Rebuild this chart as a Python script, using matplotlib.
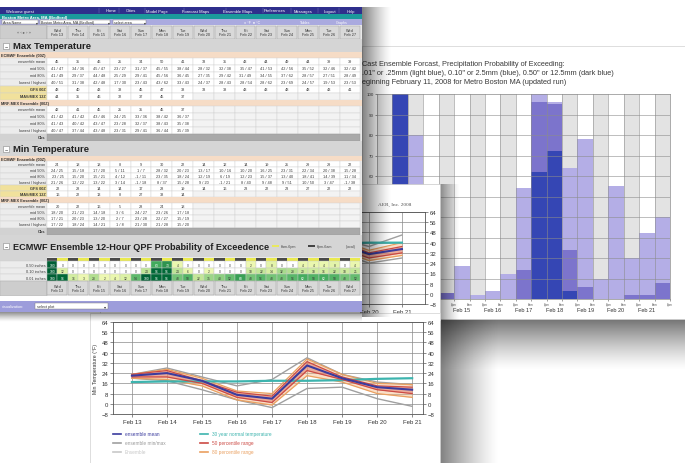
import numpy as np
import matplotlib.pyplot as plt
from matplotlib.patches import Rectangle
from matplotlib import colormaps

plt.rcParams['font.family'] = ['Liberation Sans', 'DejaVu Sans']

W, H = 685, 464

# ---------------- data ----------------
week_days = ["Wed", "Thu", "Fri", "Sat", "Sun", "Mon", "Tue", "Wed",
             "Thu", "Fri", "Sat", "Sun", "Mon", "Tue", "Wed"]
table_dates = ["Feb 13", "Feb 14", "Feb 15", "Feb 16", "Feb 17", "Feb 18", "Feb 19", "Feb 20",
               "Feb 21", "Feb 22", "Feb 23", "Feb 24", "Feb 25", "Feb 26", "Feb 27"]
nav_items = ["Home", "Cities", "Model Page", "Forecast Maps", "Ensemble Maps",
             "Preferences", "Messages", "Logout", "Help"]
row_labels = ["ensemble mean", "mid 50%", "mid 80%", "lowest / highest", "GFS 00Z", "MAV/MEX 12Z"]

max_mean = [45, 35, 46, 25, 34, 50, 41, 33, 35, 43, 44, 49, 44, 39, 39]
max_mid50 = ["41 / 47", "34 / 36", "45 / 47", "23 / 27", "31 / 37", "45 / 55", "38 / 44", "28 / 32",
             "32 / 38", "35 / 47", "41 / 53", "42 / 56", "35 / 52", "32 / 46", "32 / 42"]
max_mid80 = ["41 / 49", "29 / 37", "44 / 48", "25 / 29", "29 / 41", "45 / 56", "36 / 45", "27 / 35",
             "29 / 42", "31 / 49", "34 / 55", "37 / 62", "28 / 57", "27 / 51", "28 / 49"]
max_lohi = ["40 / 51", "31 / 38", "42 / 48", "17 / 30", "23 / 43", "43 / 62", "33 / 43", "24 / 37",
            "28 / 43", "28 / 54", "28 / 62", "23 / 69", "24 / 57", "19 / 53", "23 / 53"]
max_gfs = [48, 40, 43, 38, 45, 47, 38, 33, 38, 43, 43, 48, 48, 43, 41]
max_mav = [44, 35, 46, 32, 37, 45, 37]
max_mex_mean = [42, 41, 45, 25, 35, 45, 37]
max_mex_mid50 = ["41 / 42", "41 / 42", "43 / 46", "24 / 25", "33 / 36", "38 / 42", "36 / 37"]
max_mex_mid80 = ["41 / 43", "40 / 42", "43 / 47", "23 / 28", "32 / 37", "38 / 43", "35 / 38"]
max_mex_lohi = ["40 / 47", "37 / 44", "43 / 48", "23 / 31", "29 / 41", "36 / 44", "35 / 39"]

min_mean = [24, 18, 18, 8, 9, 30, 22, 14, 12, 14, 19, 25, 29, 29, 22]
min_mid50 = ["24 / 25", "15 / 18", "17 / 20", "5 / 11", "1 / 7", "28 / 32", "20 / 23", "13 / 17",
             "10 / 16", "10 / 20", "16 / 25", "23 / 31", "22 / 34", "20 / 38", "15 / 28"]
min_mid80 = ["23 / 25", "15 / 20", "15 / 21", "4 / 12", "-1 / 11", "23 / 35", "18 / 24", "12 / 19",
             "6 / 19", "12 / 23", "15 / 37", "13 / 40", "18 / 41", "14 / 39", "11 / 34"]
min_lohi = ["21 / 26", "12 / 22", "13 / 22", "3 / 14", "-1 / 18", "8 / 37", "15 / 28", "9 / 20",
            "-1 / 21", "8 / 40", "9 / 48", "9 / 51", "10 / 50", "3 / 47", "-1 / 38"]
min_gfs = [22, 28, 14, 14, 17, 28, 19, 14, 16, 23, 22, 23, 27, 22, 22]
min_mav = [16, 22, 13, 8, 27, 38, 14]
min_mex_mean = [20, 22, 16, 5, 28, 24, 18]
min_mex_mid50 = ["18 / 20", "21 / 23", "14 / 18", "3 / 6", "24 / 27", "23 / 26", "17 / 18"]
min_mex_mid80 = ["17 / 21", "20 / 23", "13 / 20", "2 / 7", "23 / 28", "22 / 27", "15 / 19"]
min_mex_lohi = ["17 / 22", "18 / 24", "14 / 21", "1 / 8", "21 / 30", "21 / 28", "15 / 20"]

qpf_labels = ["0.50 inches", "0.10 inches", "0.01 inches"]
qpf_050 = [100, 0, 0, 0, 0, 0, 0, 0, 0, 0, 63, 73, 4, 0, 0, 0, 0, 0, 0, 2,
           0, 8, 0, 0, 4, 4, 4, 8, 0, 4]
qpf_010 = [100, 12, 0, 0, 0, 0, 0, 0, 0, 24, 96, 96, 24, 6, 0, 2, 0, 0, 0, 18,
           22, 14, 32, 28, 20, 18, 16, 22, 18, 21]
qpf_001 = [100, 96, 16, 3, 28, 2, 4, 12, 54, 100, 96, 96, 48, 58, 22, 35, 40, 52, 68, 48,
           56, 48, 48, 56, 62, 58, 62, 58, 48, 52]

# precipitation probability bars, 12-hour periods
bar_light = [0, 100, 80, 20, 3, 16, 2, 4, 12, 54, 100, 96, 64, 78, 10, 55, 20, 32, 40]
bar_medium = [0, 100, 0, 0, 3, 0, 0, 0, 0, 14, 96, 95, 24, 6, 0, 0, 2, 2, 8]
bar_dark = [0, 100, 0, 0, 0, 0, 0, 0, 0, 0, 62, 72, 4, 0, 0, 0, 0, 0, 0]
bar_dates = ["Feb 13", "Feb 14", "Feb 15", "Feb 16", "Feb 17", "Feb 18", "Feb 19", "Feb 20", "Feb 21"]
bar_title = ["Cast Ensemble Forcast, Precipitation Probability of Exceeding:",
             ".01\" or .25mm (light blue), 0.10\" or 2.5mm (blue), 0.50\" or 12.5mm (dark blue)",
             "eginning February 11, 2008 for Metro Boston MA (updated run)"]

# line charts (Feb 13 .. Feb 21)
chart_dates = ["Feb 13", "Feb 14", "Feb 15", "Feb 16", "Feb 17", "Feb 18", "Feb 19", "Feb 20", "Feb 21"]

min_t_mean = [22, 24, 18, 7, 4, 30, 20, 13, 11]
min_t_normal = [17, 17.5, 17.5, 17.5, 18, 18, 18.5, 19.5, 20]
min_t_max = [23, 28, 21, 14, 19, 36, 23, 17, 15]
min_t_min = [20, 18, 11, 3, -3, 12, 13, 4, -2]
min_t_p80_lo = [20, 19, 14, 3, -1, 22, 17, 8, 5]
min_t_p80_hi = [23, 27, 20, 10, 8, 35, 23, 16, 15]
min_t_p50_lo = [21, 21, 16, 5, 1, 26, 19, 11, 8]
min_t_p50_hi = [23, 26, 18, 9, 6, 33, 21, 14, 13]

max_t_mean = [45, 36, 44, 26, 33, 49, 40, 31, 35]
max_t_normal = [38, 38, 38.5, 38.5, 39, 39, 39.5, 40, 40]
max_t_max = [50, 42, 48, 31, 40, 58, 44, 37, 46]
max_t_min = [40, 30, 41, 18, 24, 43, 33, 24, 28]
max_t_p80_lo = [41, 32, 42, 22, 27, 45, 35, 26, 30]
max_t_p80_hi = [48, 38, 47, 29, 39, 55, 43, 34, 40]
max_t_p50_lo = [43, 34, 43, 24, 30, 47, 37, 28, 32]
max_t_p50_hi = [46, 37, 46, 27, 36, 52, 42, 32, 37]

legend_labels = ["ensemble mean", "ensemble min/max", "Ensemble",
                 "30 year normal temperature", "50 percentile range", "80 percentile range"]

fig = plt.figure(figsize=(6.85, 4.64), dpi=100)
fig.patch.set_facecolor('white')


def px_axes(x0, y0, x1, y1, z):
    return fig.add_axes([x0 / W, 1 - y1 / H, (x1 - x0) / W, (y1 - y0) / H], zorder=z)


def overlay(z):
    ax = fig.add_axes([0, 0, 1, 1], zorder=z)
    ax.set_xlim(0, W)
    ax.set_ylim(H, 0)
    ax.axis('off')
    return ax


def shadow(ax, x0, x1, y0, y1, along, a0, z=0):
    r = np.linspace(a0, 0, 60) ** 1.3 / a0 ** 0.3
    a = np.tile(r, (2, 1)) if along == 'x' else np.tile(r[:, None], (1, 2))
    img = np.zeros(a.shape + (4,))
    img[..., 3] = a
    ax.imshow(img, extent=(x0, x1, y1, y0), aspect='auto', interpolation='bilinear', zorder=z)
    ax.set_xlim(0, W)
    ax.set_ylim(H, 0)


# ---------------- back panel: precipitation probability ----------------
bg = overlay(1)
bg.add_patch(Rectangle((362, 47), 323, 273, fc='white', ec='#d0d0d0', lw=0.5))
shadow(bg, 440, 685, 320, 372, 'y', 0.55)
shadow(bg, 440, 500, 316, 464, 'x', 0.5)
for k, t in enumerate(bar_title):
    bg.text(362, 64 + k * 9.5, t, fontsize=5.3, color='#3a3a3a', va='center', ha='left')

ax_bar = px_axes(377, 95, 670, 300, 2)
slots = np.arange(len(bar_light))
for s in slots[::2]:
    ax_bar.axvspan(s, s + 1, color='#e3e3e3', lw=0)
ax_bar.bar(slots, bar_light, width=1, align='edge', color='#b4aee6')
ax_bar.bar(slots, bar_medium, width=1, align='edge', color='#7c74cc')
ax_bar.bar(slots, bar_dark, width=1, align='edge', color='#3546b4')
for v in range(10, 100, 10):
    ax_bar.axhline(v, color='#8c8c8c', lw=0.5, alpha=0.8)
for s in slots[1:]:
    ax_bar.axvline(s, color='#8c8c8c', lw=0.5, alpha=0.8)
ax_bar.set_xlim(0, len(bar_light))
ax_bar.set_ylim(0, 100)
ax_bar.set_yticks(range(60, 101, 10))
ax_bar.tick_params(axis='y', labelsize=3.2, length=1.5, width=0.4, pad=1, colors='#444')
ax_bar.set_xticks(range(len(bar_light) + 1))
# boundaries left of x=4 sit under the middle panel
ax_bar.set_xticklabels(["" if i < 5 else ("6am" if i % 2 == 0 else "6pm")
                        for i in range(len(bar_light) + 1)])
ax_bar.tick_params(axis='x', labelsize=2.2, length=1.5, width=0.4, pad=0.5, colors='#555')
for k, d in enumerate(bar_dates):
    if k >= 2:
        ax_bar.text(1.5 + 2 * k, -5, d, fontsize=4, color='#333', ha='center', va='center', clip_on=False)
for s in ax_bar.spines.values():
    s.set_linewidth(0.5)
    s.set_color('#888')

# ---------------- middle panel: max temperature lines ----------------
mid_frame = overlay(3)
mid_frame.add_patch(Rectangle((100, 185), 340, 136, fc='white', ec='#c8c8c8', lw=0.5))
mid_frame.text(395, 205, "AER, Inc. 2008", fontsize=3.8, color='#555', ha='center', va='center',
               family=['Liberation Serif', 'DejaVu Serif'])
shadow(mid_frame, 440, 460, 185, 321, 'x', 0.4)


def line_chart(ax, xlim, mean, normal, mx, mn, p80lo, p80hi, p50lo, p50hi):
    idx = np.arange(len(chart_dates))
    ax.set_xlim(*xlim)
    ax.set_ylim(-8, 64)
    ax.set_yticks(range(-8, 65, 8))
    ax.set_xticks(idx)
    ax.set_xticklabels(chart_dates)
    ax.tick_params(labelsize=4.3, length=2, width=0.4, colors='#333', pad=1.5,
                   right=True, labelright=True)
    ax.grid(color='#8a8a8a', lw=0.5)
    ax.set_axisbelow(True)
    for s in ax.spines.values():
        s.set_linewidth(0.6)
        s.set_color('#555')
    ax.fill_between(idx, p80lo, p80hi, color='#f4b984', alpha=0.45, lw=0)
    ax.fill_between(idx, p50lo, p50hi, color='#e0766a', alpha=0.5, lw=0)
    ax.plot(idx, mx, color='#a0a0a0', lw=1.0)
    ax.plot(idx, mn, color='#a0a0a0', lw=1.0)
    ax.plot(idx, p80lo, color='#eaa060', lw=0.9)
    ax.plot(idx, p80hi, color='#eaa060', lw=0.9)
    ax.plot(idx, normal, color='#3db4ae', lw=1.6)
    ax.plot(idx, p50lo, color='#cc4a44', lw=0.9)
    ax.plot(idx, p50hi, color='#cc4a44', lw=0.9)
    ax.plot(idx, mean, color='#3b3c9e', lw=1.5)


ax_mid = px_axes(115, 213, 425, 305, 4)
line_chart(ax_mid, (-0.7, 8.7), max_t_mean, max_t_normal, max_t_max, max_t_min,
           max_t_p80_lo, max_t_p80_hi, max_t_p50_lo, max_t_p50_hi)
# the left part of this chart is hidden under the table
ax_mid.tick_params(labelleft=False)
ax_mid.set_xticklabels([d if k >= 7 else "" for k, d in enumerate(chart_dates)])

# ---------------- front panel: min temperature lines ----------------
front = overlay(5)
front.add_patch(Rectangle((90, 314), 350, 160, fc='white', ec='#d0d0d0', lw=0.5))
leg_colors = ['#3b3c9e', '#a0a0a0', '#c8c8c8', '#3db4ae', '#cc4a44', '#eaa060']
for k, (lab, c) in enumerate(zip(legend_labels, leg_colors)):
    x = 113 if k < 3 else 200
    y = 435 + (k % 3) * 9
    front.plot([x, x + 8], [y, y], color=c, lw=1.2)
    front.text(x + 12, y, lab, fontsize=3.4, color=c if k != 1 else '#999', va='center')
front.set_xlim(0, W)
front.set_ylim(H, 0)

ax_front = px_axes(113, 323, 423, 415, 6)
line_chart(ax_front, (-0.54, 8.31), min_t_mean, min_t_normal, min_t_max, min_t_min,
           min_t_p80_lo, min_t_p80_hi, min_t_p50_lo, min_t_p50_hi)
ax_front.set_ylabel("Min Temperature (°F)", fontsize=3.8, color='#333', labelpad=2)

# ---------------- front-left: the web page table ----------------
tab = overlay(8)
LX = 47
CW = (360.5 - LX) / 15
TXT = '#3a3a3a'
tab.add_patch(Rectangle((0, 8), 362, 305, fc='#e8e8e8', lw=0))
shadow(tab, 362, 392, 8, 318, 'x', 0.5)
shadow(tab, 0, 362, 313, 323, 'y', 0.45)

y = 8
# navigation bar
tab.add_patch(Rectangle((0, y), 362, 7, fc='#2f2f8c', lw=0))
tab.text(6, y + 3.5, "Welcome guest", fontsize=3, color='white', va='center')
for name, xc in zip(nav_items, [111, 131, 157, 196, 238, 275, 303, 330, 351]):
    tab.text(xc, y + 3.5, name, fontsize=3, color='white', va='center', ha='center')
    tab.plot([xc - 12, xc - 12], [y + 1, y + 6], color='#8080c0', lw=0.3)
y += 7
tab.add_patch(Rectangle((0, y), 362, 5, fc='#1b9a9c', lw=0))
tab.text(2, y + 2.5, "Boston Metro Area, MA (Bedford)", fontsize=3, color='white',
         weight='bold', va='center')
y += 5
tab.add_patch(Rectangle((0, y), 362, 6, fc='#aaaadf', lw=0))
for (a, b, t) in [(2, 38, "Area Name"), (40, 110, "Boston Metro Area, MA (Bedford)"), (113, 146, "select area")]:
    tab.add_patch(Rectangle((a, y + 1), b - a, 4, fc='white', ec='#777', lw=0.3))
    tab.text(a + 1, y + 3, t, fontsize=2.6, color='#333', va='center')
    tab.text(b - 1.5, y + 3, "▾", fontsize=2.6, color='#333', va='center', ha='center')
tab.text(252, y + 3, "○ °F  ● °C", fontsize=2.6, color='white', va='center', ha='center')
tab.text(305, y + 3, "Tables", fontsize=2.6, color='white', va='center', ha='center')
tab.text(342, y + 3, "Graphs", fontsize=2.6, color='white', va='center', ha='center')
y += 6


def date_row(y, h):
    tab.add_patch(Rectangle((0, y), LX, h, fc='#cdcdcd', ec='#aaa', lw=0.3))
    for i in range(15):
        x = LX + i * CW
        tab.add_patch(Rectangle((x + 0.5, y + 0.5), CW - 1, h - 1, fc='#d9d9d9', ec='#999', lw=0.3))
        tab.text(x + CW / 2, y + h / 2, week_days[i] + "\n" + table_dates[i], fontsize=2.8,
                 color='#333', ha='center', va='center', linespacing=1.1)


def section(y, h, title, fs=6.8):
    tab.add_patch(Rectangle((0, y), 362, h, fc='#d5d5d5', lw=0))
    tab.add_patch(Rectangle((3, y + h / 2 - 3), 6, 6, fc='white', ec='#888', lw=0.4))
    tab.text(6, y + h / 2, "−", fontsize=4, color='#555', ha='center', va='center')
    tab.text(13, y + h / 2, title, fontsize=fs, weight='bold', color='#222', va='center')


def peach(y, h, title):
    tab.add_patch(Rectangle((0, y), 362, h, fc='#f6dcc6', lw=0))
    tab.text(1.5, y + h / 2, title, fontsize=2.8, weight='bold', color='#333', va='center')


def cell_row(y, h, label, values, yellow=False):
    tab.add_patch(Rectangle((0, y), LX, h, fc='#f1e19c' if yellow else '#ececec', ec='#cfcfcf', lw=0.3))
    tab.text(LX - 1.5, y + h / 2, label, ha='right', va='center', fontsize=2.8, color=TXT,
             weight='bold' if yellow else 'normal')
    for i in range(15):
        x = LX + i * CW
        full = i < len(values)
        tab.add_patch(Rectangle((x, y), CW, h, fc='white' if full else '#f3f3f3', ec='#d0d0d0', lw=0.3))
        if full:
            tab.text(x + CW / 2, y + h / 2, str(values[i]), ha='center', va='center', fontsize=2.8, color=TXT)


def obs_row(y, h):
    tab.add_patch(Rectangle((0, y), LX, h, fc='#d2d2d2', lw=0))
    tab.text(LX - 1.5, y + h / 2, "Obs", ha='right', va='center', fontsize=2.8, weight='bold', color=TXT)
    tab.add_patch(Rectangle((LX, y + 0.5), 360.5 - LX, h - 1, fc='#a9a9a9', ec='#999', lw=0.3))


date_row(y, 14)
tab.text(LX / 2, y + 7, "« ‹ ▸ › »", fontsize=3, color='#555', ha='center', va='center')
y += 14

blocks = [("Max Temperature", [max_mean, max_mid50, max_mid80, max_lohi, max_gfs, max_mav],
           [max_mex_mean, max_mex_mid50, max_mex_mid80, max_mex_lohi], 13, 7.0, 7.0),
          ("Min Temperature", [min_mean, min_mid50, min_mid80, min_lohi, min_gfs, min_mav],
           [min_mex_mean, min_mex_mid50, min_mex_mid80, min_mex_lohi], 14.5, 5.9, 6.2)]
for title, ec_rows, mex_rows, sh, rh1, rh2 in blocks:
    section(y, sh, title)
    y += sh
    peach(y, 5.5, "ECMWF Ensemble (00Z)")
    y += 5.5
    for k, vals in enumerate(ec_rows):
        cell_row(y, rh1, row_labels[k], vals, yellow=k >= 4)
        y += rh1
    peach(y, 6, "MRF-MEX Ensemble (00Z)")
    y += 6
    for k, vals in enumerate(mex_rows):
        cell_row(y, rh2, row_labels[k], vals)
        y += rh2
    obs_row(y, 7.8)
    y += 7.8

# QPF probability section
section(y, 22, "ECMWF Ensemble 12-Hour QPF Probability of Exceedence", fs=6.6)
for k, (c, t) in enumerate([('#e8e860', "6am-6pm"), ('#444', "6pm-6am")]):
    tab.add_patch(Rectangle((272 + 36 * k, y + 9.5), 7, 2.5, fc=c, lw=0))
    tab.text(281 + 36 * k, y + 10.8, t, fontsize=2.6, color='#444', va='center')
tab.text(346, y + 10.8, "(local)", fontsize=2.6, color='#444', va='center')
y += 22
HW = CW / 2
tab.add_patch(Rectangle((0, y), LX, 4, fc='#d5d5d5', lw=0))
for j in range(30):
    tab.add_patch(Rectangle((LX + j * HW, y + 0.5), HW, 3, fc='#4a4a4a' if j % 2 == 0 else '#eaea50', lw=0))
y += 4
cmap = colormaps['YlGn']
for lab, vals in zip(qpf_labels, [qpf_050, qpf_010, qpf_001]):
    tab.add_patch(Rectangle((0, y), LX, 6.5, fc='#ececec', ec='#cfcfcf', lw=0.3))
    tab.text(LX - 1.5, y + 3.25, lab, ha='right', va='center', fontsize=2.8, color=TXT)
    for j, v in enumerate(vals):
        fc = 'white' if v == 0 else cmap(0.15 + 0.75 * v / 100)
        tab.add_patch(Rectangle((LX + j * HW, y), HW, 6.5, fc=fc, ec='#c8c8c8', lw=0.3))
        tab.text(LX + (j + 0.5) * HW, y + 3.25, str(v), ha='center', va='center', fontsize=2.4,
                 color='white' if v > 60 else TXT)
    y += 6.5
date_row(y, 15)
y += 15
tab.add_patch(Rectangle((0, y), 362, 5, fc='white', lw=0))
y += 5
tab.add_patch(Rectangle((0, y), 362, 11, fc='#9d9ddb', lw=0))
tab.text(2, y + 5.5, "visualization:", fontsize=2.8, color='white', va='center')
tab.add_patch(Rectangle((35, y + 2.5), 73, 6, fc='white', ec='#777', lw=0.3))
tab.text(37, y + 5.5, "select plot", fontsize=2.8, color='#333', va='center')
tab.text(105, y + 5.5, "▾", fontsize=3, color='#333', va='center', ha='center')
tab.set_xlim(0, W)
tab.set_ylim(H, 0)

fig.savefig("out.png", dpi=100, facecolor='white')
